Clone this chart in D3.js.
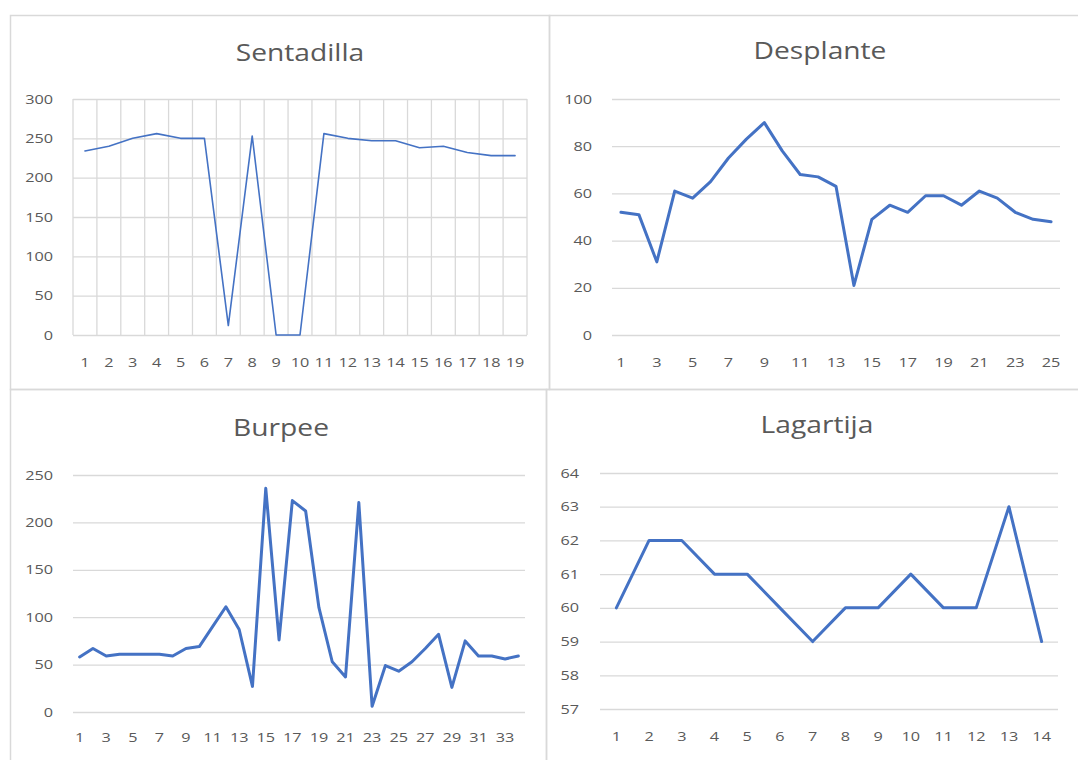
<!DOCTYPE html>
<html><head><meta charset="utf-8">
<script src="https://cdn.jsdelivr.net/npm/d3@7"></script>
<style>body{margin:0;background:#fff;} svg{display:block;}</style>
</head><body>
<svg id="c" width="1078" height="760"></svg>
<script>
// ---- data ----
const sentadillaCats = [1,2,3,4,5,6,7,8,9,10,11,12,13,14,15,16,17,18,19];
const sentadillaVals = [234,240,250,256,250,250,12,253,0,0,256,250,247,247,238,240,232,228,228];
const sentadillaYTicks = [0,50,100,150,200,250,300];
const sentadillaXTicks = [1,2,3,4,5,6,7,8,9,10,11,12,13,14,15,16,17,18,19];

const desplanteCats = [1,2,3,4,5,6,7,8,9,10,11,12,13,14,15,16,17,18,19,20,21,22,23,24,25];
const desplanteVals = [52,51,31,61,58,65,75,83,90,78,68,67,63,21,49,55,52,59,59,55,61,58,52,49,48];
const desplanteYTicks = [0,20,40,60,80,100];
const desplanteXTicks = [1,3,5,7,9,11,13,15,17,19,21,23,25];

const burpeeCats = [1,2,3,4,5,6,7,8,9,10,11,12,13,14,15,16,17,18,19,20,21,22,23,24,25,26,27,28,29,30,31,32,33,34];
const burpeeVals = [58,67,59,61,61,61,61,59,67,69,90,111,87,27,236,76,223,212,110,53,37,221,6,49,43,53,67,82,26,75,59,59,56,59];
const burpeeYTicks = [0,50,100,150,200,250];
const burpeeXTicks = [1,3,5,7,9,11,13,15,17,19,21,23,25,27,29,31,33];

const lagartijaCats = [1,2,3,4,5,6,7,8,9,10,11,12,13,14];
const lagartijaVals = [60,62,62,61,61,60,59,60,60,61,60,60,63,59];
const lagartijaYTicks = [57,58,59,60,61,62,63,64];
const lagartijaXTicks = [1,2,3,4,5,6,7,8,9,10,11,12,13,14];

const titles = ["Sentadilla","Desplante","Burpee","Lagartija"];

// ---- style ----
const LINE = "#4472C4", GRID = "#D9D9D9", TXT = "#595959", BORDER = "#D9D9D9";
const svg = d3.select("#c");

// panel frames
const frames = [[10,15,539,374],[549,15,540,374],[10,389,536,380],[546,389,540,380]];
svg.selectAll("rect.frame").data(frames).join("rect").attr("class","frame")
  .attr("x",d=>d[0]+0.5).attr("y",d=>d[1]+0.5).attr("width",d=>d[2]).attr("height",d=>d[3])
  .attr("fill","none").attr("stroke",BORDER).attr("stroke-width",1.5);

function panel(cfg){
  const g = svg.append("g");
  const x = d3.scaleBand().domain(cfg.cats).range([cfg.x0,cfg.x1]).padding(0);
  const y = d3.scaleLinear().domain([cfg.yTicks[0], cfg.yTicks[cfg.yTicks.length-1]]).range([cfg.yb,cfg.yt]);
  const fmt = d3.format("d");
  // horizontal grid
  g.append("g").call(d3.axisLeft(y).tickValues(cfg.yTicks).tickSize(-(cfg.x1-cfg.x0)).tickFormat(""))
    .attr("transform",`translate(${cfg.x0},0)`)
    .call(a=>a.select(".domain").remove())
    .call(a=>a.selectAll("line").attr("stroke",GRID).attr("stroke-width",1.3));
  if(cfg.vgrid){
    const edges = cfg.cats.map(c=>x(c)).concat([cfg.x1]);
    g.append("g").selectAll("line").data(edges).join("line")
      .attr("x1",d=>d).attr("x2",d=>d).attr("y1",cfg.yt).attr("y2",cfg.yb)
      .attr("stroke",GRID).attr("stroke-width",1.3);
  }
  // y labels
  const ya = g.append("g").attr("transform",`translate(${cfg.ylx},0)`)
    .call(d3.axisLeft(y).tickValues(cfg.yTicks).tickFormat(fmt).tickSize(0).tickPadding(0));
  ya.select(".domain").remove();
  ya.selectAll("text").attr("x",0).attr("fill",TXT).style("font-family","Open Sans")
    .style("font-size","12.5px").attr("transform","scale(1.3,1)");
  // x labels
  const xa = g.append("g").attr("transform",`translate(0,${cfg.xly})`)
    .call(d3.axisBottom(x).tickValues(cfg.xTicks).tickFormat(fmt).tickSize(0).tickPadding(0));
  xa.select(".domain").remove();
  xa.selectAll("text").attr("y",0).attr("dy","0.35em").attr("fill",TXT).style("font-family","Open Sans")
    .style("font-size","12.5px").attr("transform","scale(1.3,1)");
  // line
  const line = d3.line().x((d,i)=>x(cfg.cats[i])+x.bandwidth()/2).y(d=>y(d));
  g.append("path").datum(cfg.vals).attr("d",line).attr("fill","none")
    .attr("stroke",LINE).attr("stroke-width",cfg.lw).attr("stroke-linejoin","round").attr("stroke-linecap","round");
  // title
  g.append("text").attr("transform",`translate(${cfg.tx},${cfg.ty}) scale(1.2,1)`)
    .attr("text-anchor","middle").attr("dy","0.35em").attr("fill",TXT)
    .style("font-family","Open Sans").style("font-size","23.5px").text(cfg.title);
}

panel({cats:sentadillaCats,vals:sentadillaVals,yTicks:sentadillaYTicks,xTicks:sentadillaXTicks,
  x0:73,x1:527,yt:99,yb:335,ylx:53,xly:363,vgrid:true,lw:1.6,title:titles[0],tx:300,ty:53});
panel({cats:desplanteCats,vals:desplanteVals,yTicks:desplanteYTicks,xTicks:desplanteXTicks,
  x0:612,x1:1060,yt:99,yb:335,ylx:592,xly:363,vgrid:false,lw:3,title:titles[1],tx:820,ty:51});
panel({cats:burpeeCats,vals:burpeeVals,yTicks:burpeeYTicks,xTicks:burpeeXTicks,
  x0:73,x1:525,yt:475,yb:712,ylx:53,xly:738,vgrid:false,lw:3,title:titles[2],tx:281,ty:428});
panel({cats:lagartijaCats,vals:lagartijaVals,yTicks:lagartijaYTicks,xTicks:lagartijaXTicks,
  x0:600,x1:1058,yt:473,yb:709,ylx:579,xly:737,vgrid:false,lw:3,title:titles[3],tx:817,ty:425});
</script>
</body></html>
